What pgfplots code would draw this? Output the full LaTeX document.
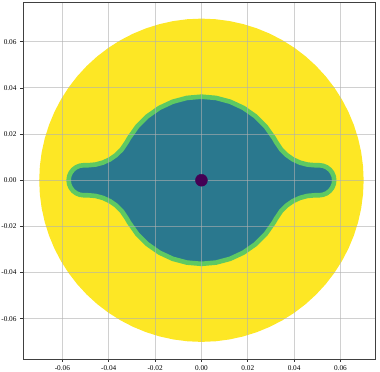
\documentclass[border=0pt]{standalone}
\usepackage{fontspec}
\setmainfont{Liberation Serif}
\usepackage{pgfplots}
\pgfplotsset{compat=1.18}
\definecolor{vyel}{HTML}{FDE725}
\definecolor{vteal}{HTML}{2A788E}
\definecolor{vgreen}{HTML}{5EC962}
\definecolor{vpurp}{HTML}{440154}
\definecolor{gridc}{HTML}{B0B0B0}
\begin{document}
\begin{tikzpicture}
\begin{axis}[name=ax, scale only axis, width=352bp, height=357bp,
  xmin=-0.077, xmax=0.0749, ymin=-0.0774, ymax=0.0772,
  xtick={-0.06,-0.04,-0.02,0,0.02,0.04,0.06},
  ytick={-0.06,-0.04,-0.02,0,0.02,0.04,0.06},
  scaled ticks=false,
  xticklabel style={/pgf/number format/fixed,/pgf/number format/fixed zerofill,/pgf/number format/precision=2},
  yticklabel style={/pgf/number format/fixed,/pgf/number format/fixed zerofill,/pgf/number format/precision=2},
  /pgf/number format/assume math mode=true,
  tick label style={font=\fontsize{7.3}{8}\selectfont},
  tick align=outside, tick pos=left, major tick length=3bp,
  every tick/.style={black!80, line width=0.7bp},
  axis line style={black!75, line width=0.8bp},
  grid=major, major grid style={gridc, opacity=0.6, line width=0.8bp},
  axis on top,
]
\addplot[fill=vyel, draw=none] coordinates {
(0.07,0) (0.069734,0.006101) (0.068937,0.012156) (0.067615,0.018117) (0.065778,0.023941) (0.063442,0.029583) (0.060622,0.035) (0.057341,0.040150) (0.053623,0.044995) (0.049497,0.049497) (0.044995,0.053623) (0.040150,0.057341) (0.035,0.060622) (0.029583,0.063442) (0.023941,0.065778) (0.018117,0.067615) (0.012156,0.068937) (0.006101,0.069734)
(0,0.07) (-0.006101,0.069734) (-0.012156,0.068937) (-0.018117,0.067615) (-0.023941,0.065778) (-0.029583,0.063442) (-0.035,0.060622) (-0.040150,0.057341) (-0.044995,0.053623) (-0.049497,0.049497) (-0.053623,0.044995) (-0.057341,0.040150) (-0.060622,0.035) (-0.063442,0.029583) (-0.065778,0.023941) (-0.067615,0.018117) (-0.068937,0.012156) (-0.069734,0.006101)
(-0.07,0) (-0.069734,-0.006101) (-0.068937,-0.012156) (-0.067615,-0.018117) (-0.065778,-0.023941) (-0.063442,-0.029583) (-0.060622,-0.035) (-0.057341,-0.040150) (-0.053623,-0.044995) (-0.049497,-0.049497) (-0.044995,-0.053623) (-0.040150,-0.057341) (-0.035,-0.060622) (-0.029583,-0.063442) (-0.023941,-0.065778) (-0.018117,-0.067615) (-0.012156,-0.068937) (-0.006101,-0.069734)
(0,-0.07) (0.006101,-0.069734) (0.012156,-0.068937) (0.018117,-0.067615) (0.023941,-0.065778) (0.029583,-0.063442) (0.035,-0.060622) (0.040150,-0.057341) (0.044995,-0.053623) (0.049497,-0.049497) (0.053623,-0.044995) (0.057341,-0.040150) (0.060622,-0.035) (0.063442,-0.029583) (0.065778,-0.023941) (0.067615,-0.018117) (0.068937,-0.012156) (0.069734,-0.006101)
} -- cycle;
\addplot[fill=vteal, draw=vgreen, line width=4.6bp, line join=round] coordinates {
(-0.0573,0) (-0.057079,0.001682) (-0.056429,0.00325) (-0.055396,0.004596) (-0.05405,0.005629)
(-0.052482,0.006279) (-0.0508,0.0065) (-0.049,0.0065) (-0.045688,0.00679) (-0.042477,0.00765)
(-0.039464,0.009055) (-0.036741,0.010962) (-0.034391,0.013312) (-0.032091,0.016749) (-0.031350,0.0181)
(-0.027731,0.023269) (-0.023269,0.027731) (-0.0181,0.031350) (-0.012381,0.034017) (-0.006286,0.035650)
(0,0.0362) (0.006286,0.035650) (0.012381,0.034017) (0.0181,0.031350) (0.023269,0.027731)
(0.027731,0.023269) (0.031350,0.0181) (0.032091,0.016749) (0.034391,0.013312) (0.036741,0.010962)
(0.039464,0.009055) (0.042477,0.00765) (0.045688,0.00679) (0.049,0.0065) (0.0508,0.0065)
(0.052482,0.006279) (0.05405,0.005629) (0.055396,0.004596) (0.056429,0.00325) (0.057079,0.001682)
(0.0573,0)
(0.057079,-0.001682) (0.056429,-0.00325) (0.055396,-0.004596) (0.05405,-0.005629) (0.052482,-0.006279)
(0.0508,-0.0065) (0.049,-0.0065) (0.045688,-0.00679) (0.042477,-0.00765) (0.039464,-0.009055)
(0.036741,-0.010962) (0.034391,-0.013312) (0.032091,-0.016749) (0.031350,-0.0181) (0.027731,-0.023269)
(0.023269,-0.027731) (0.0181,-0.031350) (0.012381,-0.034017) (0.006286,-0.035650) (0,-0.0362)
(-0.006286,-0.035650) (-0.012381,-0.034017) (-0.0181,-0.031350) (-0.023269,-0.027731) (-0.027731,-0.023269)
(-0.031350,-0.0181) (-0.032091,-0.016749) (-0.034391,-0.013312) (-0.036741,-0.010962) (-0.039464,-0.009055)
(-0.042477,-0.00765) (-0.045688,-0.00679) (-0.049,-0.0065) (-0.0508,-0.0065) (-0.052482,-0.006279)
(-0.05405,-0.005629) (-0.055396,-0.004596) (-0.056429,-0.00325) (-0.057079,-0.001682)
} -- cycle;
\addplot[only marks, mark=*, mark size=6bp, color=vpurp, mark options={draw=none}] coordinates {(0,0)};
\end{axis}
\pgfresetboundingbox
\path ([xshift=-23bp,yshift=-13bp]ax.south west) rectangle ([xshift=5bp,yshift=2bp]ax.north east);
\end{tikzpicture}
\end{document}
